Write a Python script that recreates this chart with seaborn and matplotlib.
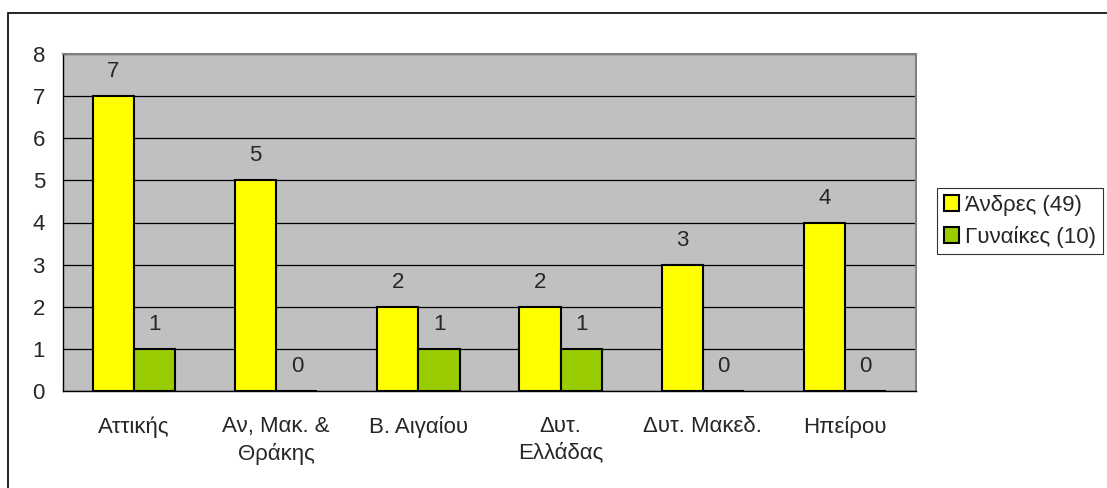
import numpy as np
import pandas as pd
import seaborn as sns
import matplotlib.pyplot as plt
from matplotlib.patches import Rectangle

# Δεδομένα
regions = ["Αττικής", "Αν, Μακ. &\nΘράκης", "Β. Αιγαίου", "Δυτ.\nΕλλάδας", "Δυτ. Μακεδ.", "Ηπείρου"]
men = [7, 5, 2, 2, 3, 4]
women = [1, 0, 1, 1, 0, 0]
series_labels = ["Άνδρες (49)", "Γυναίκες (10)"]
colors = ["#FFFF00", "#99CC00"]
yticks = [0, 1, 2, 3, 4, 5, 6, 7, 8]

df = pd.DataFrame({
    "region": regions * 2,
    "value": men + women,
    "series": [series_labels[0]] * len(regions) + [series_labels[1]] * len(regions),
})

sns.set_style("white")
plt.rcParams["font.family"] = ["Liberation Sans", "DejaVu Sans"]
FS = 16
plt.rcParams["font.size"] = FS

W, H = 1107, 488
fig = plt.figure(figsize=(W / 100, H / 100), dpi=100)
ax = fig.add_axes([63 / W, (H - 391) / H, (916 - 63) / W, (391 - 54) / H])

sns.barplot(data=df, x="region", y="value", hue="series", palette=colors,
            saturation=1, width=0.58, edgecolor="black", linewidth=1.5,
            legend=False, ax=ax)

# etiquetas de valores
for cont in ax.containers:
    ax.bar_label(cont, fmt="%d", padding=10, fontsize=FS)

ax.set_facecolor("#C0C0C0")
ax.set_ylim(0, 8)
ax.set_xlim(-0.5, len(regions) - 0.5)
ax.set_yticks(yticks)
ax.yaxis.grid(True, color="black", linewidth=0.9)
ax.set_axisbelow(True)
ax.set_xlabel("")
ax.set_ylabel("")

# separadores de categorías
ax.set_xticks(np.arange(-0.5, len(regions), 1.0), minor=True)
ax.tick_params(axis="x", which="minor", length=6, width=1, color="black", direction="out")
ax.tick_params(axis="x", which="major", length=0, pad=18, labelsize=FS)
ax.tick_params(axis="y", length=6, width=1, color="black", direction="out", pad=7, labelsize=FS)
ax.set_xticks(range(len(regions)))
ax.set_xticklabels(regions, linespacing=1.35)

for side in ["top", "right"]:
    ax.spines[side].set_color("#808080")
    ax.spines[side].set_linewidth(1.5)
for side in ["left", "bottom"]:
    ax.spines[side].set_color("black")
    ax.spines[side].set_linewidth(1)

leg = ax.legend(ax.containers, series_labels, loc="upper left",
                bbox_to_anchor=(937 / W, 1 - 188 / H), bbox_transform=fig.transFigure,
                borderaxespad=0, frameon=True, fancybox=False, fontsize=FS,
                handlelength=0.7, handleheight=0.7, handletextpad=0.27,
                labelspacing=0.45, borderpad=0.3)
leg.get_frame().set_edgecolor("black")
leg.get_frame().set_linewidth(0.8)

# marco exterior del gráfico
fig.patches.append(Rectangle((8 / W, -0.1), 1.2, (1 - 13 / H) + 0.1,
                             transform=fig.transFigure, fill=False,
                             edgecolor="black", linewidth=1.2))

plt.savefig("out.png", dpi=100)
plt.close(fig)
